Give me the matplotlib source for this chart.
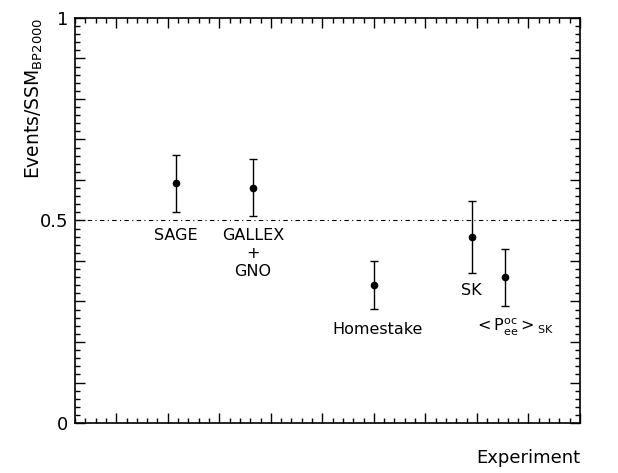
import numpy as np
import matplotlib
matplotlib.use("Agg")
import matplotlib.pyplot as plt
from matplotlib.ticker import MultipleLocator, FuncFormatter

plt.rcParams['font.family'] = ['DejaVu Sans']
plt.rcParams['mathtext.default'] = 'regular'

# experiments, positions on the (unlabelled) x axis, rate / SSM and errors
experiments = ['SAGE', 'GALLEX\n+\nGNO', 'Homestake', 'SK', r'$<P^{oc}_{ee}>_{SK}$']
xpos = [2.15, 3.65, 6.0, 7.9, 8.55]
ratio = [0.592, 0.581, 0.341, 0.460, 0.360]
err = [0.070, 0.070, 0.060, 0.089, 0.070]

fig = plt.figure(figsize=(6.18, 4.73), dpi=100, facecolor='w')
ax = fig.add_axes([0.1214, 0.1057, 0.8171, 0.8563])

ax.errorbar(xpos, ratio, yerr=err, fmt='o', color='black', ms=4.5,
            elinewidth=1.0, capsize=3, capthick=1.0)
ax.axhline(0.5, color='black', lw=0.8, ls=(0, (4, 3, 1, 3)))

# label placement (data coords)
lab_x = [2.15, 3.65, 6.08, 7.9, 8.72]
lab_y = [0.482, 0.482, 0.25, 0.345, 0.262]
for name, lx, ly in zip(experiments, lab_x, lab_y):
    ax.text(lx, ly, name, ha='center', va='top', fontsize=11.5, linespacing=1.25)

ax.set_xlim(0.2, 10)
ax.set_ylim(0, 1)
ax.xaxis.set_major_locator(MultipleLocator(1))
ax.xaxis.set_minor_locator(MultipleLocator(0.2))
ax.yaxis.set_major_locator(MultipleLocator(0.1))
ax.yaxis.set_minor_locator(MultipleLocator(0.02))
ax.xaxis.set_major_formatter(FuncFormatter(lambda v, p: ''))
ax.yaxis.set_major_formatter(FuncFormatter(
    lambda v, p: {0: '0', 5: '0.5', 10: '1'}.get(int(round(v * 10)), '')))
ax.tick_params(which='both', direction='in', top=True, right=True, width=1.0,
               labelsize=13, pad=5)
ax.tick_params(which='major', length=7.5)
ax.tick_params(which='minor', length=3.5)
for s in ax.spines.values():
    s.set_linewidth(1.2)

ax.set_ylabel(r'Events/SSM$_{BP2000}$', fontsize=13.5, loc='top', labelpad=-4)
ax.set_xlabel('Experiment', fontsize=13, loc='right', labelpad=14)

fig.savefig('out.png', dpi=100)
